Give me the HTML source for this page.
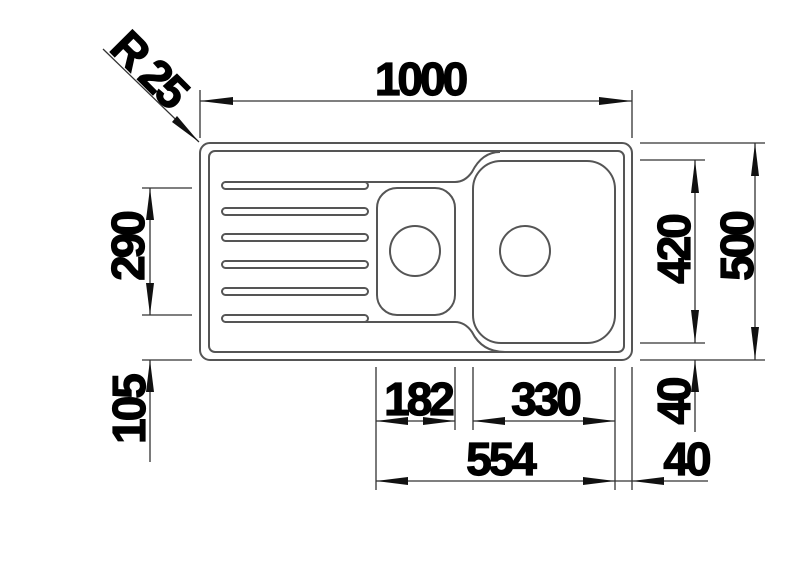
<!DOCTYPE html>
<html><head><meta charset="utf-8"><style>
html,body{margin:0;padding:0;background:#fff;width:800px;height:564px;overflow:hidden}
svg{display:block}
text{font-family:"Liberation Sans",sans-serif;font-weight:bold;font-size:46px;fill:#000;stroke:#000;stroke-width:1.2;letter-spacing:-3px}
</style></head><body>
<svg width="800" height="564" viewBox="0 0 800 564" xmlns="http://www.w3.org/2000/svg">
<g fill="none" stroke="#555" stroke-width="2">
<rect x="200" y="143" width="432" height="217" rx="10"/>
<rect x="209" y="151" width="415" height="201" rx="6"/>
<path d="M225 182 H455 Q465 182 472 172 Q482 152 500 152"/>
<path d="M225 322 H455 Q465 322 472 332 Q482 352 505 352"/>
<rect x="377" y="188" width="78" height="127" rx="20"/>
<circle cx="415" cy="251" r="25"/>
<rect x="473" y="161" width="142" height="182" rx="28"/>
<circle cx="525" cy="251" r="25"/>
</g>
<g fill="none" stroke="#555" stroke-width="2">
<rect x="222" y="182" width="146" height="7" rx="3.5"/>
<rect x="222" y="208" width="146" height="7" rx="3.5"/>
<rect x="222" y="234" width="146" height="7" rx="3.5"/>
<rect x="222" y="261" width="146" height="7" rx="3.5"/>
<rect x="222" y="288" width="146" height="7" rx="3.5"/>
<rect x="222" y="315" width="146" height="7" rx="3.5"/>
</g>
<g stroke="#333" stroke-width="1.3" fill="none">
<line x1="200" y1="90" x2="200" y2="138"/><line x1="632" y1="90" x2="632" y2="138"/>
<line x1="200" y1="101" x2="632" y2="101"/>
<line x1="103" y1="49" x2="199" y2="142"/>
<line x1="640" y1="143" x2="765" y2="143"/><line x1="640" y1="360" x2="765" y2="360"/>
<line x1="755" y1="143" x2="755" y2="360"/>
<line x1="640" y1="160" x2="705" y2="160"/><line x1="640" y1="343" x2="705" y2="343"/>
<line x1="695" y1="160" x2="695" y2="343"/>
<line x1="695" y1="360" x2="695" y2="432"/>
<line x1="142" y1="188" x2="192" y2="188"/><line x1="142" y1="315" x2="192" y2="315"/>
<line x1="142" y1="360" x2="192" y2="360"/>
<line x1="150" y1="188" x2="150" y2="315"/><line x1="150" y1="360" x2="150" y2="462"/>
<line x1="376" y1="367" x2="376" y2="490"/><line x1="455" y1="367" x2="455" y2="430"/>
<line x1="473" y1="367" x2="473" y2="430"/><line x1="615" y1="367" x2="615" y2="490"/>
<line x1="632" y1="367" x2="632" y2="490"/>
<line x1="376" y1="421" x2="455" y2="421"/><line x1="473" y1="421" x2="615" y2="421"/>
<line x1="376" y1="481" x2="615" y2="481"/><line x1="615" y1="481" x2="708" y2="481"/>
</g>
<g fill="#111">
<polygon points="200,101 233,97 233,105"/><polygon points="632,101 599,97 599,105"/>
<polygon points="199,142 177,116 172,122"/>
<polygon points="755,143 751,176 759,176"/><polygon points="755,360 751,327 759,327"/>
<polygon points="695,160 691,193 699,193"/><polygon points="695,343 691,310 699,310"/>
<polygon points="695,360 691,392 699,392"/>
<polygon points="150,188 146,220 154,220"/><polygon points="150,315 146,283 154,283"/>
<polygon points="150,360 146,392 154,392"/>
<polygon points="376,421 408,417 408,425"/><polygon points="455,421 423,417 423,425"/>
<polygon points="473,421 505,417 505,425"/><polygon points="615,421 583,417 583,425"/>
<polygon points="376,481 408,477 408,485"/><polygon points="615,481 583,477 583,485"/>
<polygon points="632,481 664,477 664,485"/>
</g>
<text x="420" y="95" text-anchor="middle">1000</text>
<text transform="translate(138,80) rotate(45)" text-anchor="middle">R 25</text>
<text transform="translate(753,247) rotate(-90)" text-anchor="middle">500</text>
<text transform="translate(690,250) rotate(-90)" text-anchor="middle">420</text>
<text transform="translate(690,402) rotate(-90)" text-anchor="middle">40</text>
<text transform="translate(144,247) rotate(-90)" text-anchor="middle">290</text>
<text transform="translate(145,410) rotate(-90)" text-anchor="middle">105</text>
<text x="418" y="415" text-anchor="middle">182</text>
<text x="545" y="415" text-anchor="middle">330</text>
<text x="500" y="475" text-anchor="middle">554</text>
<text x="686" y="475" text-anchor="middle">40</text>
</svg>
</body></html>
